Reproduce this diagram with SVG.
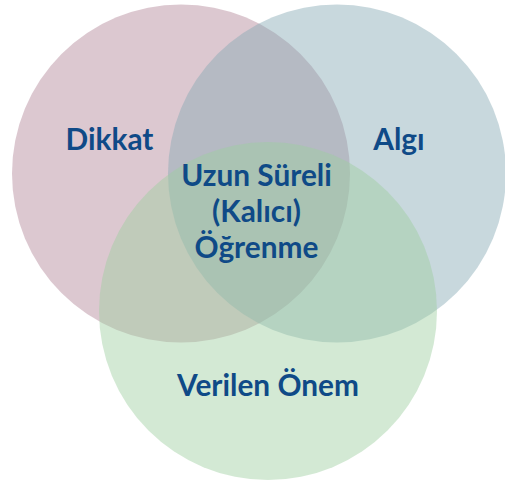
<svg xmlns="http://www.w3.org/2000/svg" width="505" height="480" viewBox="0 0 505 480">
<style>
.c{opacity:0.45}
.t{font-family:Lato,"Open Sans","DejaVu Sans",sans-serif;font-weight:700;font-size:29.8px;fill:#0f4a87;text-anchor:middle}
</style>
<rect width="505" height="480" fill="#ffffff"/>
<g id="dikkat"><circle class="c" cx="181" cy="173.5" r="169" fill="#b18597"/><text class="t" x="109.5" y="150">Dikkat</text></g>
<g id="algi"><circle class="c" cx="337" cy="173.5" r="169" fill="#85a8b3"/><text class="t" x="399" y="150">Algı</text></g>
<g id="verilen-onem"><circle class="c" cx="268" cy="311" r="169" fill="#9dce9f"/><text class="t" x="268" y="396">Verilen Önem</text></g>
<g id="merkez"><text class="t" x="256.5" y="186">Uzun Süreli</text><text class="t" x="256.5" y="222">(Kalıcı)</text><text class="t" x="256.5" y="258">Öğrenme</text></g>
<g id="connectors"></g>
</svg>
